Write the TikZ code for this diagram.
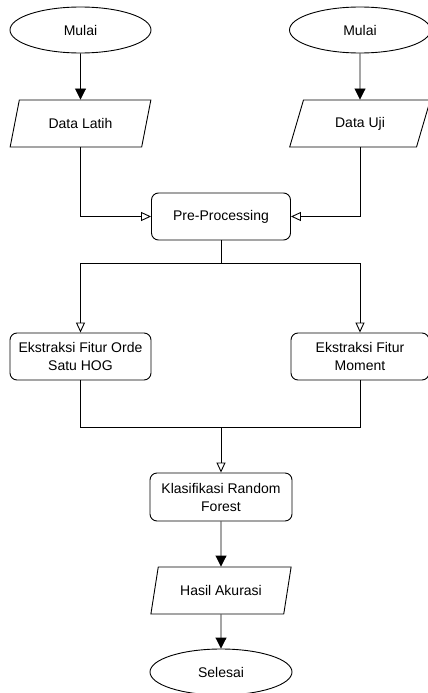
\documentclass[tikz,border=0pt]{standalone}
\usepackage{fontspec}
\setmainfont{Liberation Sans}
\usepackage{tikz}
\usetikzlibrary{arrows.meta}
\usetikzlibrary{shapes.geometric}

\tikzset{
  startstop/.style={draw, ellipse, minimum width=141pt, minimum height=46pt, inner sep=0pt},
  iobox/.style={draw, trapezium, trapezium left angle=65, trapezium right angle=115,
    trapezium stretches=true, minimum width=141pt, minimum height=47pt, inner sep=0pt},
  procbox/.style={draw, rounded corners=7pt, minimum width=141pt, minimum height=47pt,
    align=center, inner sep=0pt},
  fillarrow/.style={-{Triangle[length=11pt, width=11pt]}},
  openarrow/.style={-{Triangle[open, length=10pt, width=9pt]}},
}

\begin{document}
\begin{tikzpicture}[x=1pt, y=-1pt, line width=0.9pt, font=\fontsize{14}{18}\selectfont]
        \def\xl{80.5}
        \def\xm{221}
        \def\xr{360}

        \useasboundingbox (0,0) rectangle (428,693);

        \node[startstop] (mulaiA) at (\xl,30) {Mulai};
        \node[startstop] (mulaiB) at (\xr,30) {Mulai};
        \node[iobox] (latih) at (\xl,123.5) {Data Latih};
        \node[iobox] (uji) at (\xr,123.5) {Data Uji};
        \node[procbox, minimum width=139pt] (prepro) at (\xm,216.5) {Pre-Processing};
        \node[procbox] (hog) at (\xl,356.5) {Ekstraksi Fitur Orde\\Satu HOG};
        \node[procbox, minimum width=138pt] (moment) at (\xr,356.5) {Ekstraksi Fitur\\Moment};
        \node[procbox, minimum width=142pt, minimum height=48pt] (rf) at (\xm,497) {Klasifikasi Random\\Forest};
        \node[iobox] (hasil) at (\xm,590.5) {Hasil Akurasi};
        \node[startstop, minimum width=142pt] (selesai) at (\xm,672) {Selesai};

        \coordinate (split) at (\xm,263);
        \coordinate (join) at (\xm,427);

        \draw[fillarrow] (mulaiA) -- (latih);
        \draw[fillarrow] (mulaiB) -- (uji);
        \draw[openarrow] (latih.south) |- (prepro.west);
        \draw[openarrow] (uji.south) |- (prepro.east);

        \draw (prepro.south) -- (split);
        \draw[openarrow] (split) -| (hog.north);
        \draw[openarrow] (split) -| (moment.north);

        \draw (hog.south) |- (join);
        \draw (moment.south) |- (join);
        \draw[openarrow] (join) -- (rf.north);

        \draw[fillarrow] (rf) -- (hasil);
        \draw[fillarrow] (hasil) -- (selesai);
    \end{tikzpicture}
\end{document}
